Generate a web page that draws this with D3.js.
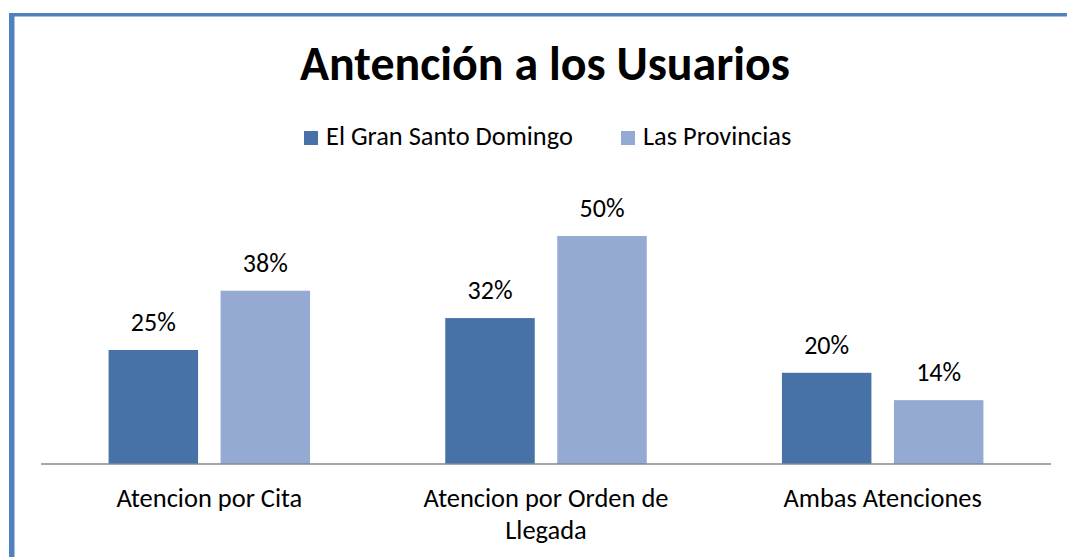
<html>
<head>
<meta charset="utf-8">
<script src="https://cdn.jsdelivr.net/npm/d3@7"></script>
<title>Antención a los Usuarios</title>
<style>
  body { margin: 0; background: #fff; }
  text { font-family: Carlito, Calibri, Lato, sans-serif; fill: #000; }
</style>
</head>
<body>
<div id="chart"></div>
<script type="text/javascript">

// data
var categories = ["Atencion por Cita", "Atencion por Orden de Llegada", "Ambas Atenciones"];
var series = ["El Gran Santo Domingo", "Las Provincias"];
var santoDomingo = [0.25, 0.32, 0.20];
var provincias = [0.38, 0.50, 0.14];
var colors = ["#4672a7", "#94aad2"];

var W = 1067, H = 557;
var svg = d3.select("#chart").append("svg").attr("width", W).attr("height", H);

// frame (only top and left show)
svg.append("rect").attr("x", 9).attr("y", 13).attr("width", 1100).attr("height", 600)
  .attr("fill", "none").attr("stroke", "#4f81bd").attr("stroke-width", 0)
svg.append("rect").attr("x", 9).attr("y", 13).attr("width", W - 9).attr("height", 3.5).attr("fill", "#4f81bd");
svg.append("rect").attr("x", 9).attr("y", 13).attr("width", 5.5).attr("height", H - 13).attr("fill", "#4f81bd");

// shrink/grow a text to a target width
function fit(sel, target, base) {
  sel.style("font-size", base + "px");
  var w = sel.node().getComputedTextLength();
  sel.style("font-size", (base * target / w).toFixed(2) + "px");
  return base * target / w;
}

var title = svg.append("text").attr("x", 545).attr("y", 80).attr("text-anchor", "middle")
  .style("font-weight", "bold").text("Antención a los Usuarios");
fit(title, 490, 44);

// scales
var x0 = d3.scaleBand().domain(categories).range([41, 1051]).paddingInner(0).paddingOuter(0);
var y = d3.scaleLinear().domain([0, 0.6]).range([464, 464 - 0.6 * 456]);
var barW = 89.5, gap = 22.5;

var rows = categories.map(function (c, i) { return { cat: c, vals: [santoDomingo[i], provincias[i]] }; });

var groups = svg.selectAll("g.cat").data(rows).enter().append("g").attr("class", "cat");

var labelSize = null;
groups.each(function (d) {
  var g = d3.select(this);
  var cx = x0(d.cat) + x0.bandwidth() / 2;
  d.vals.forEach(function (v, j) {
    var bx = cx - gap / 2 - barW + j * (barW + gap);
    g.append("rect").attr("x", bx).attr("y", y(v)).attr("width", barW)
      .attr("height", y(0) - y(v)).attr("fill", colors[j]);
    var t = g.append("text").attr("x", bx + barW / 2).attr("y", y(v) - 19)
      .attr("text-anchor", "middle").text(d3.format(".0%")(v));
    if (labelSize === null) labelSize = fit(t, 45, 22);
    t.style("font-size", labelSize + "px");
  });
});

// axis line
svg.append("line").attr("x1", 41).attr("x2", 1051).attr("y1", 464).attr("y2", 464)
  .attr("stroke", "#888").attr("stroke-width", 1.5);

// category labels, wrapped like the original
var catLines = { "Atencion por Orden de Llegada": ["Atencion por Orden de", "Llegada"] };
var probe = svg.append("text").text("Atencion por Orden de");
var catSize = fit(probe, 245, 22);
probe.remove();
categories.forEach(function (c) {
  var lines = catLines[c] || [c];
  var t = svg.append("text").attr("x", x0(c) + x0.bandwidth() / 2).attr("y", 507)
    .attr("text-anchor", "middle").style("font-size", catSize + "px");
  lines.forEach(function (l, k) {
    t.append("tspan").attr("x", x0(c) + x0.bandwidth() / 2).attr("dy", k === 0 ? 0 : 32).text(l);
  });
});

// legend
var probe2 = svg.append("text").text(series[0]);
var legSize = fit(probe2, 247, 22);
probe2.remove();
var legX = [304, 621];
series.forEach(function (s, i) {
  svg.append("rect").attr("x", legX[i]).attr("y", 131).attr("width", 14).attr("height", 14).attr("fill", colors[i]);
  svg.append("text").attr("x", legX[i] + 22).attr("y", 145).style("font-size", legSize + "px").text(s);
});

</script>
</body>
</html>
